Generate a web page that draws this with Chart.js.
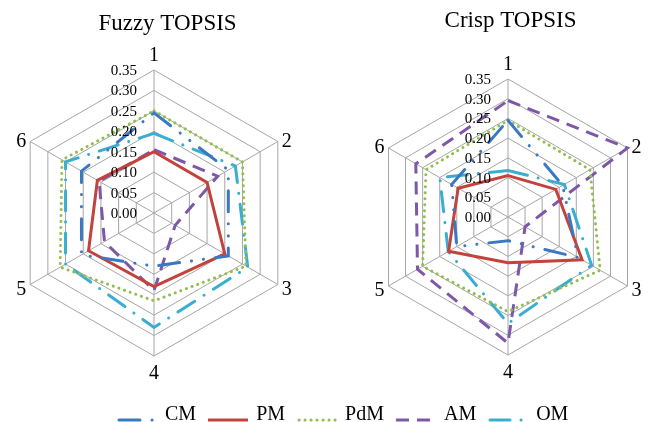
<!DOCTYPE html>
<html>
<head>
<meta charset="utf-8">
<script src="https://cdn.jsdelivr.net/npm/chart.js@4.4.0/dist/chart.umd.min.js"></script>
<style>
  body { margin: 0; background: #fff; }
  #wrap { position: relative; width: 650px; height: 422px; overflow: hidden;
          font-family: "Liberation Serif", "Times New Roman", serif; }
  #fuzzy { position: absolute; left: 0; top: 0; }
  #crisp { position: absolute; left: 325px; top: 0; }
  #legend { position: absolute; left: 117px; top: 403px; white-space: nowrap;
            font-size: 20px; line-height: 20px; color: #000; }
  #legend .item { display: inline-block; margin-right: 12px; }
  #legend canvas { vertical-align: baseline; position: relative; top: 3px; margin-right: 8px; }
</style>
</head>
<body>
<div id="wrap">
  <canvas id="fuzzy" width="325" height="422"></canvas>
  <canvas id="crisp" width="325" height="422"></canvas>
  <div id="legend"></div>
</div>
<script>
// axes of the radar and the series
var axisLabels = ['1', '2', '3', '4', '5', '6'];
var seriesNames = ['CM', 'PM', 'PdM', 'AM', 'OM'];

// Fuzzy TOPSIS (left)
var fuzzyCM  = [0.245, 0.21, 0.21, 0.13, 0.205, 0.205];
var fuzzyPM  = [0.15, 0.15, 0.20, 0.18, 0.185, 0.16];
var fuzzyPdM = [0.25, 0.25, 0.26, 0.215, 0.265, 0.26];
var fuzzyAM  = [0.155, 0.18, 0.06, 0.19, 0.14, 0.155];
var fuzzyOM  = [0.195, 0.23, 0.265, 0.28, 0.25, 0.25];

// Crisp TOPSIS (right)
var crispCM  = [0.245, 0.16, 0.205, 0.06, 0.15, 0.165];
var crispPM  = [0.105, 0.14, 0.217, 0.116, 0.174, 0.146];
var crispPdM = [0.245, 0.24, 0.27, 0.24, 0.25, 0.24];
var crispAM  = [0.295, 0.35, 0.05, 0.32, 0.265, 0.27];
var crispOM  = [0.118, 0.165, 0.245, 0.27, 0.175, 0.20];

// line looks, same order as seriesNames
var lineColors = ['#3a78c2', '#c4423c', '#92be4e', '#7d58a8', '#3aaed0'];
var lineDashes = [[21, 12, 0.1, 12, 0.1, 12], [], [0.1, 5.9], [13, 8], [20, 11, 0.1, 11]];
var lineCaps   = ['round', 'butt', 'round', 'butt', 'round'];

var serif = '"Liberation Serif", "Times New Roman", serif';

// tick labels, axis numbers and title drawn the way Excel places them
var excelLabels = {
    id: 'excelLabels',
    afterDatasetsDraw: function (chart, args, opts) {
        var r = chart.scales.r;
        var ctx = chart.ctx;
        ctx.save();
        ctx.fillStyle = '#000';
        ctx.textBaseline = 'alphabetic';
        ctx.font = '15px ' + serif;
        ctx.textAlign = 'right';
        r.ticks.forEach(function (t) {
            var y = r.yCenter - r.getDistanceFromCenterForValue(t.value);
            ctx.fillText(t.value.toFixed(2), r.xCenter - 17, y + 5);
        });
        ctx.font = '20px ' + serif;
        chart.data.labels.forEach(function (lab, i) {
            var p = r.getPointPosition(i, r.drawingArea);
            var dx = p.x - r.xCenter;
            var x = p.x, y;
            if (Math.abs(dx) < 1) {
                ctx.textAlign = 'center';
                y = p.y < r.yCenter ? p.y - 9 : p.y + 23;
            } else {
                ctx.textAlign = dx > 0 ? 'left' : 'right';
                x = p.x + (dx > 0 ? 4 : -4);
                y = p.y < r.yCenter ? p.y + 5 : p.y + 10;
            }
            ctx.fillText(lab, x, y);
        });
        ctx.font = '23px ' + serif;
        ctx.textAlign = 'center';
        ctx.fillText(opts.text, opts.x, opts.y);
        ctx.restore();
    }
};

function radarChart(id, values, title, padding) {
    var datasets = [];
    for (var k = 0; k < seriesNames.length; k++) {
        datasets.push({
            label: seriesNames[k],
            data: values[k],
            borderColor: lineColors[k],
            borderWidth: 3,
            borderDash: lineDashes[k],
            borderCapStyle: lineCaps[k],
            fill: false,
            pointRadius: 0
        });
    }
    return new Chart(document.getElementById(id), {
        type: 'radar',
        data: { labels: axisLabels, datasets: datasets },
        options: {
            responsive: false,
            animation: false,
            layout: { padding: padding },
            plugins: {
                legend: { display: false },
                tooltip: { enabled: false },
                excelLabels: title
            },
            scales: {
                r: {
                    min: 0,
                    max: 0.35,
                    ticks: { stepSize: 0.05, display: false },
                    grid: { color: '#a6a6a6', lineWidth: 1 },
                    angleLines: { color: '#a6a6a6', lineWidth: 1 },
                    pointLabels: { display: false }
                }
            }
        },
        plugins: [excelLabels]
    });
}

radarChart('fuzzy', [fuzzyCM, fuzzyPM, fuzzyPdM, fuzzyAM, fuzzyOM],
    { text: 'Fuzzy TOPSIS', x: 167.5, y: 30 },
    { left: 11, right: 28, top: 53, bottom: 49 });
radarChart('crisp', [crispCM, crispPM, crispPdM, crispAM, crispOM],
    { text: 'Crisp TOPSIS', x: 185.5, y: 27 },
    { left: 45, right: 4, top: 67, bottom: 55 });

// shared legend under both charts
var legend = document.getElementById('legend');
seriesNames.forEach(function (name, k) {
    var item = document.createElement('span');
    item.className = 'item';
    var c = document.createElement('canvas');
    c.width = 40;
    c.height = 6;
    var g = c.getContext('2d');
    g.strokeStyle = lineColors[k];
    g.lineWidth = 3;
    g.lineCap = lineCaps[k];
    g.setLineDash(lineDashes[k]);
    g.beginPath();
    g.moveTo(lineCaps[k] == 'round' ? 2 : 0, 3);
    g.lineTo(40, 3);
    g.stroke();
    item.appendChild(c);
    var t = document.createElement('span');
    t.textContent = name;
    item.appendChild(t);
    legend.appendChild(item);
});
</script>
</body>
</html>
